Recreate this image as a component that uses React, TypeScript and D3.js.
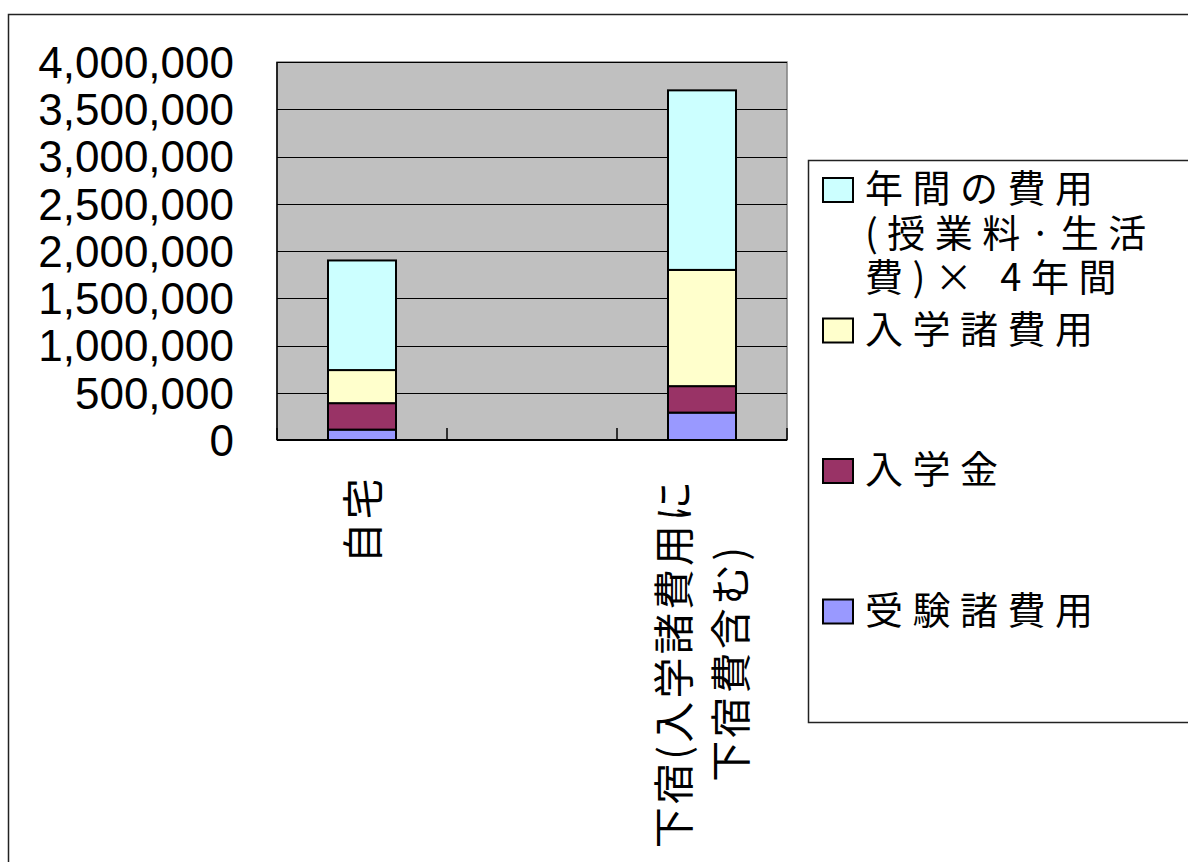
import React, { useEffect, useRef } from 'react';
import * as d3 from 'd3';

// categories (x axis), the middle one is an empty slot
const categories = ['自宅', 'blank', '下宿'];
const categoryLabels: string[][] = [['自宅'], [], ['下宿(入学諸費用に', '下宿費含む)']];

// series, bottom to top of each stack
const seriesKeys = ['受験諸費用', '入学金', '入学諸費用', '年間の費用'];
const juken = [110000, 0, 290000];
const nyugakukin = [280000, 0, 280000];
const nyugakuShohiyo = [350000, 0, 1230000];
const nenkan = [1160000, 0, 1900000];

const seriesColors = ['#9999FF', '#993366', '#FFFFCC', '#CCFFFF'];
const legendLabels: string[][] = [
  ['年間の費用', '(授業料·生活', '費)× 4年間'],
  ['入学諸費用'],
  ['入学金'],
  ['受験諸費用'],
];
const legendColors = ['#CCFFFF', '#FFFFCC', '#993366', '#9999FF'];

const yTicks = [0, 500000, 1000000, 1500000, 2000000, 2500000, 3000000, 3500000, 4000000];

const W = 1188;
const H = 862;

export default function App() {
  const svgRef = useRef<SVGSVGElement>(null);

  useEffect(() => {
    if (!svgRef.current) return;
    const svg = d3.select(svgRef.current);
    svg.selectAll('*').remove();

    const plot = { left: 277, right: 787, top: 62, bottom: 440 };

    // outer chart border
    svg.append('rect')
      .attr('x', 8.5).attr('y', 14.5)
      .attr('width', W + 20).attr('height', H + 20)
      .attr('fill', 'white')
      .attr('stroke', '#222').attr('stroke-width', 1.5);

    const x = d3.scaleBand()
      .domain(categories)
      .range([plot.left, plot.right])
      .padding(0);

    const y = d3.scaleLinear()
      .domain([0, 4000000])
      .range([plot.bottom, plot.top]);

    // plot background
    svg.append('rect')
      .attr('x', plot.left).attr('y', plot.top)
      .attr('width', plot.right - plot.left).attr('height', plot.bottom - plot.top)
      .attr('fill', '#C0C0C0')
      .attr('stroke', '#808080').attr('stroke-width', 1.5);

    // gridlines
    svg.append('g')
      .selectAll('line')
      .data(yTicks.filter(d => d > 0))
      .enter().append('line')
      .attr('x1', plot.left).attr('x2', plot.right)
      .attr('y1', d => Math.round(y(d)) + 0.5).attr('y2', d => Math.round(y(d)) + 0.5)
      .attr('stroke', '#000').attr('stroke-width', 1);

    // stacked bars
    const table = categories.map((c, i) => ({
      cat: c,
      '受験諸費用': juken[i],
      '入学金': nyugakukin[i],
      '入学諸費用': nyugakuShohiyo[i],
      '年間の費用': nenkan[i],
    }));
    const stacked = d3.stack<any>().keys(seriesKeys)(table);
    const bw = x.bandwidth() * 0.4;

    stacked.forEach((layer, li) => {
      svg.append('g')
        .selectAll('rect')
        .data(layer.filter(d => d[1] - d[0] > 0))
        .enter().append('rect')
        .attr('x', d => (x(d.data.cat) || 0) + (x.bandwidth() - bw) / 2)
        .attr('y', d => y(d[1]))
        .attr('width', bw)
        .attr('height', d => y(d[0]) - y(d[1]))
        .attr('fill', seriesColors[li])
        .attr('stroke', '#000').attr('stroke-width', 2);
    });

    // axes lines
    svg.append('line')
      .attr('x1', plot.left).attr('x2', plot.right)
      .attr('y1', plot.bottom).attr('y2', plot.bottom)
      .attr('stroke', '#000').attr('stroke-width', 2);
    svg.append('line')
      .attr('x1', plot.left).attr('x2', plot.left)
      .attr('y1', plot.top).attr('y2', plot.bottom)
      .attr('stroke', '#000').attr('stroke-width', 1.5);

    // category tick marks (pointing up into plot)
    const bounds = categories.map(c => x(c) || 0).concat([plot.right]);
    svg.append('g')
      .selectAll('line')
      .data(bounds)
      .enter().append('line')
      .attr('x1', d => d).attr('x2', d => d)
      .attr('y1', plot.bottom).attr('y2', plot.bottom - 12)
      .attr('stroke', '#000').attr('stroke-width', 1.5);

    // y tick labels
    const fmt = d3.format(',');
    svg.append('g')
      .selectAll('text')
      .data(yTicks)
      .enter().append('text')
      .attr('x', 234)
      .attr('y', d => y(d))
      .attr('dy', '0.36em')
      .attr('text-anchor', 'end')
      .attr('font-family', '"Liberation Sans", Arial, sans-serif')
      .attr('font-size', 44)
      .attr('fill', '#000')
      .text(d => fmt(d));

    // category labels, rotated
    const catFont = 41;
    const catSpacing = 3.2;
    categories.forEach((c, i) => {
      const lines = categoryLabels[i];
      if (!lines.length) return;
      const cx = (x(c) || 0) + x.bandwidth() / 2;
      const lh = 57;
      const n = lines.length;
      const longest = d3.max(lines, l => l.length) || 1;
      lines.forEach((l, j) => {
        const centerX = cx - ((n - 1) * lh) / 2 + j * lh;
        const baseX = centerX + 0.38 * catFont;
        const g = svg.append('g')
          .attr('transform', `translate(${baseX},${475}) rotate(-90)`);
        g.append('text')
          .attr('x', n > 1 ? -(longest * (catFont * 0.94 + catSpacing)) / 2 : 0)
          .attr('y', 0)
          .attr('text-anchor', n > 1 ? 'middle' : 'end')
          .attr('font-family', '"Noto Sans CJK JP", sans-serif')
          .attr('font-size', catFont)
          .attr('letter-spacing', catSpacing)
          .attr('fill', '#000')
          .text(l);
      });
    });

    // legend box
    svg.append('rect')
      .attr('x', 808.5).attr('y', 160.5)
      .attr('width', 400).attr('height', 722 - 160)
      .attr('fill', 'white')
      .attr('stroke', '#222').attr('stroke-width', 1.5);

    const lgFont = 38;
    legendLabels.forEach((lines, i) => {
      const cy = 190 + i * 140.5;
      svg.append('rect')
        .attr('x', 823).attr('y', cy - 12)
        .attr('width', 30).attr('height', 24)
        .attr('fill', legendColors[i])
        .attr('stroke', '#000').attr('stroke-width', 2);
      const t = svg.append('text')
        .attr('font-family', '"Noto Sans CJK JP", sans-serif')
        .attr('font-size', lgFont)
        .attr('letter-spacing', 9.5)
        .attr('fill', '#000');
      lines.forEach((l, j) => {
        t.append('tspan')
          .attr('x', 865)
          .attr('y', cy - 2 + 0.38 * lgFont + j * 44.5)
          .text(l);
      });
    });
  }, []);

  return (
    <svg
      ref={svgRef}
      width={W}
      height={H}
      style={{ position: 'absolute', left: 0, top: 0, display: 'block', background: 'white' }}
    />
  );
}
